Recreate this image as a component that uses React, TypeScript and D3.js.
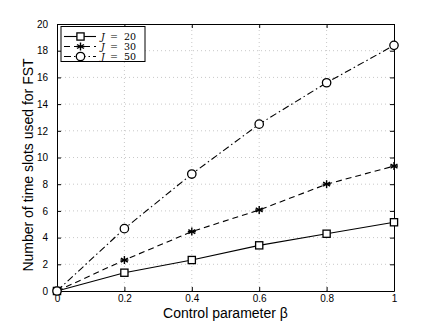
import * as d3 from 'd3';
import React, { useEffect, useRef } from 'react';

const betas = [0, 0.2, 0.4, 0.6, 0.8, 1];
const slotsJ20 = [0, 1.37, 2.32, 3.42, 4.29, 5.15];
const slotsJ30 = [0, 2.32, 4.45, 6.07, 8.0, 9.36];
const slotsJ50 = [0, 4.67, 8.76, 12.5, 15.6, 18.4];
const xTicks = [0, 0.2, 0.4, 0.6, 0.8, 1];
const yTicks = [0, 2, 4, 6, 8, 10, 12, 14, 16, 18, 20];
const seriesLabels = ['20', '30', '50'];

const W = 436;
const H = 327;
const m = { left: 57, right: 42, top: 24, bottom: 36 };

function App() {
  const svgRef = useRef<SVGSVGElement>(null);

  useEffect(() => {
    const svg = d3.select(svgRef.current);
    svg.selectAll('*').remove();

    const x = d3.scaleLinear().domain([0, 1]).range([m.left, W - m.right]);
    const y = d3.scaleLinear().domain([0, 20]).range([H - m.bottom, m.top]);
    const font = 'Liberation Sans, Arial, sans-serif';

    // grid
    const grid = svg.append('g').attr('stroke', '#c8c8c8').attr('stroke-dasharray', '1,3');
    grid.selectAll('.gx')
      .data(xTicks.slice(1, -1))
      .join('line')
      .attr('x1', d => x(d)).attr('x2', d => x(d))
      .attr('y1', y(0)).attr('y2', y(20));
    grid.selectAll('.gy')
      .data(yTicks.slice(1, -1))
      .join('line')
      .attr('x1', x(0)).attr('x2', x(1))
      .attr('y1', d => y(d)).attr('y2', d => y(d));

    // axes, ticks inside like matlab
    const ax = svg.append('g').attr('font-family', font).attr('font-size', 11);
    const bottom = ax.append('g').attr('transform', `translate(0,${y(0)})`)
      .call(d3.axisBottom(x).tickValues(xTicks).tickSizeInner(-4).tickSizeOuter(0).tickPadding(4).tickFormat(d3.format('')));
    const top = ax.append('g').attr('transform', `translate(0,${y(20)})`)
      .call(d3.axisTop(x).tickValues(xTicks).tickSizeInner(-4).tickSizeOuter(0).tickFormat(() => ''));
    const left = ax.append('g').attr('transform', `translate(${x(0)},0)`)
      .call(d3.axisLeft(y).tickValues(yTicks).tickSizeInner(-4).tickSizeOuter(0).tickPadding(9));
    const right = ax.append('g').attr('transform', `translate(${x(1)},0)`)
      .call(d3.axisRight(y).tickValues(yTicks).tickSizeInner(-4).tickSizeOuter(0).tickFormat(() => ''));
    [bottom, top, left, right].forEach(g => {
      g.select('.domain').attr('stroke', '#000');
      g.selectAll('text').attr('fill', '#000');
    });

    const lineGen = d3.line<number>().x((d, i) => x(betas[i])).y(d => y(d));
    const series = [
      { vals: slotsJ20, dash: null, marker: 'square' },
      { vals: slotsJ30, dash: '6,4', marker: 'star' },
      { vals: slotsJ50, dash: '7,3,1.5,3', marker: 'circle' },
    ];

    const drawMarker = (g: any, kind: string, cx: number, cy: number) => {
      if (kind === 'square') {
        g.append('rect').attr('x', cx - 3.6).attr('y', cy - 3.6).attr('width', 7.2).attr('height', 7.2)
          .attr('fill', '#fff').attr('stroke', '#000').attr('stroke-width', 1.3);
      } else if (kind === 'circle') {
        g.append('circle').attr('cx', cx).attr('cy', cy).attr('r', 4.2)
          .attr('fill', '#fff').attr('stroke', '#000').attr('stroke-width', 1.3);
      } else {
        const r = 4;
        [0, 60, 120].forEach(a => {
          const rad = (a * Math.PI) / 180;
          g.append('line')
            .attr('x1', cx - r * Math.sin(rad)).attr('y1', cy - r * Math.cos(rad))
            .attr('x2', cx + r * Math.sin(rad)).attr('y2', cy + r * Math.cos(rad))
            .attr('stroke', '#000').attr('stroke-width', 1.4);
        });
        g.append('line').attr('x1', cx - r).attr('x2', cx + r).attr('y1', cy).attr('y2', cy)
          .attr('stroke', '#000').attr('stroke-width', 1.4);
      }
    };

    series.forEach(s => {
      svg.append('path').attr('d', lineGen(s.vals)).attr('fill', 'none')
        .attr('stroke', '#000').attr('stroke-width', 1.1)
        .attr('stroke-dasharray', s.dash);
    });
    series.forEach(s => {
      const g = svg.append('g');
      s.vals.forEach((v, i) => drawMarker(g, s.marker, x(betas[i]), y(v)));
    });

    // legend
    const lg = svg.append('g');
    lg.append('rect').attr('x', 61).attr('y', 26.5).attr('width', 84).attr('height', 35)
      .attr('fill', '#fff').attr('stroke', '#000').attr('stroke-width', 1);
    series.forEach((s, i) => {
      const ly = 36.5 + i * 10;
      lg.append('line').attr('x1', 64).attr('x2', 96).attr('y1', ly).attr('y2', ly)
        .attr('stroke', '#000').attr('stroke-width', 1.1).attr('stroke-dasharray', s.dash);
      drawMarker(lg, s.marker, 80.5, ly);
      const t = lg.append('text').attr('y', ly + 3.4)
        .attr('font-family', 'DejaVu Serif, serif').attr('font-size', 9.5);
      t.append('tspan').attr('x', 101).attr('font-style', 'italic').text('J');
      t.append('tspan').attr('x', 110).text('=');
      t.append('tspan').attr('x', 124).text(seriesLabels[i]);
    });

    // labels
    svg.append('text').attr('x', (x(0) + x(1)) / 2).attr('y', 318)
      .attr('text-anchor', 'middle').attr('font-family', font).attr('font-size', 14)
      .text('Control parameter β');
    svg.append('text').attr('transform', 'translate(33,165) rotate(-90)')
      .attr('text-anchor', 'middle').attr('font-family', font).attr('font-size', 14)
      .text('Number of time slots used for FST');
  }, []);

  return (
    <svg ref={svgRef} width={W} height={H}
      style={{ position: 'absolute', left: 0, top: 0, background: '#fff' }} />
  );
}

export default App;
